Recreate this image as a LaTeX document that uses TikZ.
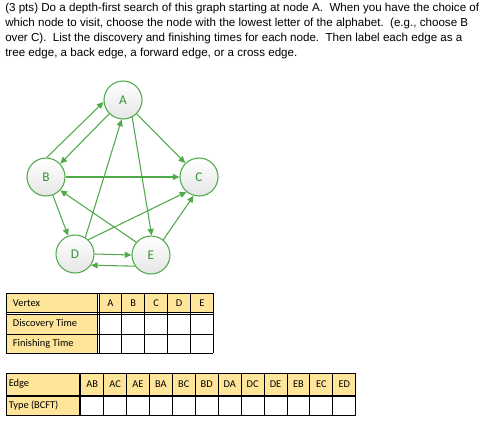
\documentclass[tikz,border=0pt]{standalone}
\usepackage{fontspec}
\setmainfont{Liberation Sans}
\newfontfamily\cellfont{Carlito}
\usetikzlibrary{positioning,arrows.meta,calc}
\definecolor{GraphGreen}{RGB}{80,170,75}
\definecolor{LetterGreen}{RGB}{55,150,50}
\definecolor{TableGold}{RGB}{255,229,153}
\tikzset{
  vertex/.style={circle,draw=GraphGreen,line width=0.8pt,top color=white,
    bottom color=black!10,minimum size=28.5pt,inner sep=0pt,
    font=\cellfont\fontsize{10}{11}\selectfont,text=LetterGreen},
  arc/.style={-{Triangle[length=5pt,width=4.5pt]},line width=0.8pt,draw=GraphGreen},
  grid/.style={draw=black,line width=0.7pt},
  headcell/.style={font=\cellfont\fontsize{7.8}{9}\selectfont,inner sep=0pt},
  labelcell/.style={headcell,anchor=west}
}

\begin{document}
\begin{tikzpicture}[x=0.75pt,y=-0.75pt]
  \useasboundingbox (0,0) rectangle (493,431);

  % question text
  \node[anchor=north west,inner sep=0pt,align=left,font=\fontsize{8.7}{11.25}\selectfont] (intro) at (5,3)
    {(3 pts) Do a depth-first search of this graph starting at node A.\ \ When you have the choice of\\
     which node to visit, choose the node with the lowest letter of the alphabet.\ \ (e.g., choose B\\
     over C).\ \ List the discovery and finishing times for each node.\ \ Then label each edge as a\\
     tree edge, a back edge, a forward edge, or a cross edge.};

  % graph
  \node[vertex] (A) at (123,100) {A};
  \node[vertex] (B) at (46,177) {B};
  \node[vertex] (C) at (199,177) {C};
  \node[vertex] (D) at (75,254) {D};
  \node[vertex] (E) at (151,255) {E};

  \draw[arc] (A.225) -- (B.43);
  \draw[arc] (B.88) -- (A.186);
  \draw[arc] (A) -- (C);
  \draw[arc] (A.-62) -- (E.88);
  \draw[arc] (B) -- (C);
  \draw[arc] (B) -- (D);
  \draw[arc] (D.58) -- (A.-94);
  \draw[arc] (D.47) -- (C.230);
  \draw[arc] (D.east) -- (E.west);
  \draw[arc] (E.139) -- (B.-43);
  \draw[arc] (E.51) -- (C.254);
  \draw[arc] (E.-145) -- (D.-35);

  % vertex table
  \fill[TableGold] (6,293.3) rectangle (97.3,312.7);
  \fill[TableGold] (99,293.3) rectangle (213.3,312.7);
  \fill[TableGold] (6,314.3) rectangle (97.3,353.3);
  \foreach \y in {293.3,312.7,314.3,334,353.3}
    \draw[grid] (6,\y) -- (213.3,\y);
  \foreach \x in {6,97.3}
    \draw[grid] (\x,293.3) -- (\x,353.3);
  \foreach \k in {0,...,5}
    \draw[grid] ({99+22.86*\k},293.3) -- ({99+22.86*\k},353.3);
  \node[labelcell] (vt-head) at (12.7,303) {Vertex};
  \node[labelcell] (vt-disc) at (12.7,324.1) {Discovery Time};
  \node[labelcell] (vt-fin) at (12.7,343.6) {Finishing Time};
  \foreach \v [count=\i from 0] in {A,B,C,D,E}
    \node[headcell] (vt-\v) at ({99+22.86*(\i+0.5)},303) {\v};

  % edge table
  \fill[TableGold] (6,373.3) rectangle (79,395);
  \fill[TableGold] (80.7,373.3) rectangle (355.7,395);
  \fill[TableGold] (6,396.7) rectangle (79,415);
  \foreach \y in {373.3,395,396.7,415}
    \draw[grid] (6,\y) -- (355.7,\y);
  \foreach \x in {6,79}
    \draw[grid] (\x,373.3) -- (\x,415);
  \foreach \k in {0,...,12}
    \draw[grid] ({80.7+22.92*\k},373.3) -- ({80.7+22.92*\k},415);
  \node[labelcell] (et-head) at (8.5,384.2) {Edge};
  \node[labelcell] (et-type) at (8.5,405.8) {Type (BCFT)};
  \foreach \e [count=\i from 0] in {AB,AC,AE,BA,BC,BD,DA,DC,DE,EB,EC,ED}
    \node[headcell] (et-\e) at ({80.7+22.92*(\i+0.5)},384.2) {\e};
\end{tikzpicture}
\end{document}
